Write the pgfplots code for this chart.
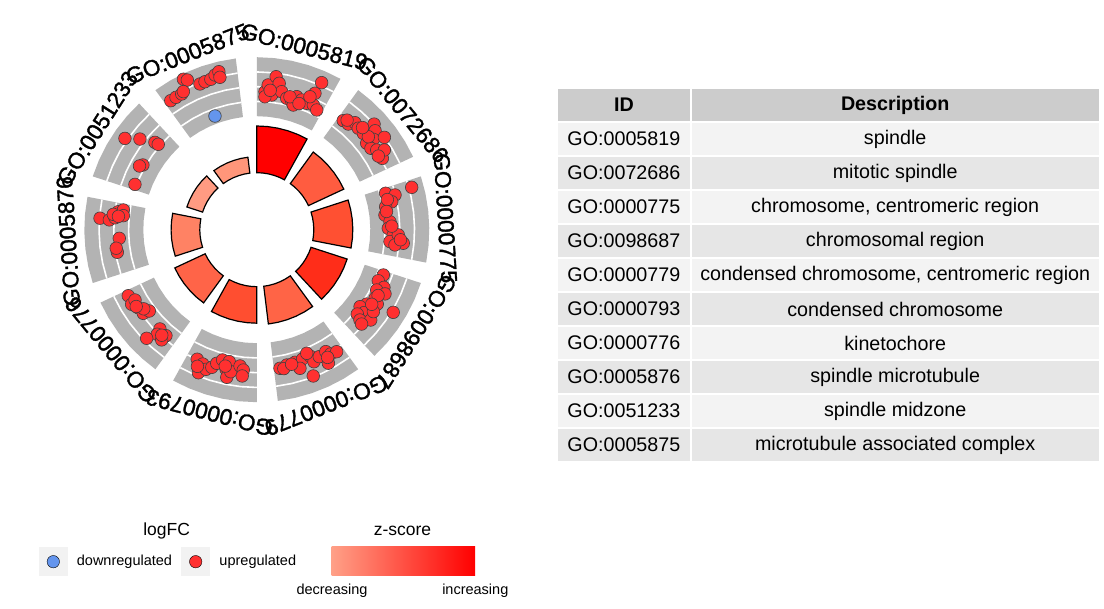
\documentclass[border=0pt]{standalone}
\usepackage{fontspec}
\setmainfont{Liberation Sans}
\newfontface\lblfont{Liberation Sans}[FakeBold=1.5]
\usepackage{pgfplots}
\pgfplotsset{compat=1.18}
\usepackage{pgfplotstable}
\usepgfplotslibrary{polar}

\definecolor{grey70}{RGB}{179,179,179}
\definecolor{fb1}{RGB}{255,48,48}
\definecolor{cfb}{RGB}{100,149,237}
\definecolor{zb1}{RGB}{255,0,0}
\definecolor{zb2}{RGB}{255,92,64}
\definecolor{zb3}{RGB}{255,80,50}
\definecolor{zb4}{RGB}{255,45,25}
\definecolor{zb5}{RGB}{255,100,70}
\definecolor{zb6}{RGB}{255,78,48}
\definecolor{zb7}{RGB}{255,100,72}
\definecolor{zb8}{RGB}{255,130,100}
\definecolor{zb9}{RGB}{255,155,130}
\definecolor{zb10}{RGB}{255,150,122}
\definecolor{hdr}{RGB}{204,204,204}
\definecolor{rowA}{RGB}{243,243,243}
\definecolor{rowB}{RGB}{230,230,230}
\definecolor{keybg}{RGB}{242,242,242}
\definecolor{gradL}{RGB}{255,160,135}
\definecolor{gradM}{RGB}{255,95,70}
\definecolor{gradR}{RGB}{255,0,0}

% upregulated genes: angle (deg), radius in the logFC ring
\pgfplotstableread{
a r
86.6 138.2
85.5 145.2
83.7 135.5
82.8 154.2
81.3 148.1
79.8 140.2
77.2 134.8
74.7 132.7
73.3 138.9
70.9 137.3
68.5 135.9
65.6 136.9
66.9 148.3
63.4 133.9
66.2 160.7
73.7 129.9
68.2 143.2
86.5 133.2
84.5 140.0
76.0 137.0
71.5 133.0
51.6 139.2
49.1 139.8
47.5 145.2
45.0 143.5
42.1 143.6
42.0 157.8
39.9 154.2
37.8 147.5
38.2 139.8
35.5 140.2
33.6 144.0
29.6 144.4
35.9 157.5
32.0 150.4
31.2 142.1
39.8 145.2
50.5 142.0
44.0 147.0
15.8 133.9
14.1 142.5
11.7 137.8
10.1 130.9
6.5 129.0
3.4 133.4
0.6 131.5
-2.2 136.6
-5.1 133.7
-2.1 141.6
-5.3 147.1
-6.3 139.0
15.3 160.6
13.0 134.0
8.0 131.0
-4.0 144.0
1.5 135.0
-19.7 134.4
-22.8 131.8
-24.4 139.6
-26.7 134.2
-26.6 143.4
-30.1 136.7
-31.7 141.6
-34.1 132.7
-36.7 128.8
-37.7 135.6
-40.0 131.2
-41.2 137.1
-38.4 145.4
-42.0 141.0
-31.2 159.5
-35.1 142.5
-28.5 138.0
-33.0 137.0
-80.5 140.5
-77.5 138.6
-73.9 138.0
-70.5 137.2
-67.2 137.0
-66.6 143.9
-63.8 141.5
-60.5 140.1
-59.3 144.6
-56.8 145.8
-61.8 151.5
-68.9 156.8
-72.7 145.2
-68.0 133.3
-79.0 141.5
-75.5 139.0
-61.0 146.0
-114.7 142.6
-111.9 144.8
-112.2 154.5
-110.0 148.6
-108.1 144.8
-106.7 139.5
-104.7 134.7
-101.8 134.8
-102.4 143.0
-101.5 150.6
-100.4 144.4
-97.0 137.3
-95.5 141.0
-95.7 147.0
-113.5 149.0
-103.0 140.0
-152.8 144.5
-149.2 145.7
-146.6 141.9
-143.6 141.0
-142.9 134.8
-134.3 138.7
-133.6 144.4
-130.6 139.6
-130.8 145.6
-135.4 154.7
-150.0 140.6
-145.0 138.0
-132.0 142.0
-147.5 143.0
175.8 157.2
176.2 147.8
175.2 142.3
172.6 139.7
171.6 134.9
174.0 134.2
173.9 144.3
183.6 137.8
189.2 141.3
187.5 141.8
174.5 139.0
145.3 160.4
142.2 147.9
139.4 134.2
139.1 130.4
150.4 131.0
151.5 133.5
159.6 130.0
116.0 167.4
114.9 165.0
111.3 156.4
109.3 156.8
107.0 157.3
105.1 160.2
103.5 162.5
103.6 156.8
123.7 155.1
121.4 155.1
118.95 155.1
118.0 156.4
}\uptab

% downregulated genes
\pgfplotstableread{
a r
110.2 121.1
}\downtab

% one term: six angles along the sector, bar radius, bar colour
\newcommand{\sector}[8]{%
\addplot[data cs=polar, draw=none, fill=grey70] coordinates {(#1,113.5) (#1,172.5) (#2,172.5) (#3,172.5) (#4,172.5) (#5,172.5) (#6,172.5) (#6,113.5) (#5,113.5) (#4,113.5) (#3,113.5) (#2,113.5)} -- cycle;
\addplot[data cs=polar, white, line width=1.6pt] coordinates {(#1,128.25) (#2,128.25) (#3,128.25) (#4,128.25) (#5,128.25) (#6,128.25)};
\addplot[data cs=polar, white, line width=1.6pt] coordinates {(#1,143) (#2,143) (#3,143) (#4,143) (#5,143) (#6,143)};
\addplot[data cs=polar, white, line width=1.6pt] coordinates {(#1,157.75) (#2,157.75) (#3,157.75) (#4,157.75) (#5,157.75) (#6,157.75)};
\addplot[data cs=polar, draw=black, line width=1.2pt, fill=#8] coordinates {(#1,57) (#1,#7) (#2,#7) (#3,#7) (#4,#7) (#5,#7) (#6,#7) (#6,57) (#5,57) (#4,57) (#3,57) (#2,57)} -- cycle;
}

\begin{document}
\begin{tikzpicture}
% legend key backgrounds (image-pixel frame)
\begin{scope}[x=1pt, y=-1pt, shift={(-256.8pt,229.7pt)}]
\fill[keybg] (39,547) rectangle (68,576);
\fill[keybg] (181,547) rectangle (210,576);
\end{scope}
\begin{axis}[
  x=1pt, y=1pt, scale only axis, hide axis, clip=false,
  xmin=-256.8, xmax=847.2, ymin=-379.3, ymax=229.7,
  anchor=south west, at={(-256.8pt,-379.3pt)},
]
\sector{90}{84.2}{78.4}{72.6}{66.8}{61}{103.7}{zb1}
\sector{54}{48.2}{42.4}{36.6}{30.8}{25}{96}{zb2}
\sector{18}{12.2}{6.4}{0.6}{-5.2}{-11}{96}{zb3}
\sector{-18}{-23.8}{-29.6}{-35.4}{-41.2}{-47}{95}{zb4}
\sector{-54}{-59.8}{-65.6}{-71.4}{-77.2}{-83}{95}{zb5}
\sector{-90}{-95.8}{-101.6}{-107.4}{-113.2}{-119}{93.5}{zb6}
\sector{-126}{-131.8}{-137.6}{-143.4}{-149.2}{-155}{90.5}{zb7}
\sector{-162}{-167.8}{-173.6}{-179.4}{-185.2}{-191}{85.7}{zb8}
\sector{-198}{-203.8}{-209.6}{-215.4}{-221.2}{-227}{73.5}{zb9}
\sector{-234}{-239.8}{-245.6}{-251.4}{-257.2}{-263}{73}{zb10}

\addplot[data cs=polar, only marks, mark=*, mark size=6.3pt,
  mark options={fill=fb1, draw=black!75, line width=0.6pt}] table[x=a, y=r] {\uptab};
\addplot[data cs=polar, only marks, mark=*, mark size=6.3pt,
  mark options={fill=cfb, draw=black!75, line width=0.6pt}] table[x=a, y=r] {\downtab};

% legend keys
\addplot[only marks, mark=*, mark size=6.2pt, mark options={fill=cfb, draw=none}] coordinates {(-203.5,-332)};
\addplot[only marks, mark=*, mark size=6.2pt, mark options={fill=fb1, draw=none}] coordinates {(-61.1,-332)};
\end{axis}

% term labels round the circle
\begin{scope}[every node/.style={font=\lblfont\fontsize{22.7}{27}\selectfont, inner sep=0pt}]
\node[rotate=-14.5]  at (47.3pt,183.0pt)   {GO:0005819};
\node[rotate=-50.5]  at (145.8pt,120.2pt)  {GO:0072686};
\node[rotate=-86.5]  at (188.6pt,11.5pt)   {GO:0000775};
\node[rotate=-122.5] at (159.4pt,-101.6pt) {GO:0098687};
\node[rotate=-158.5] at (69.3pt,-175.8pt)  {GO:0000779};
\node[rotate=-194.5] at (-47.3pt,-183.0pt) {GO:0000793};
\node[rotate=-230.5] at (-145.8pt,-120.2pt){GO:0000776};
\node[rotate=-266.5] at (-188.6pt,-11.5pt) {GO:0005876};
\node[rotate=57.5]   at (-159.4pt,101.6pt) {GO:0051233};
\node[rotate=21.5]   at (-69.3pt,175.8pt)  {GO:0005875};
\end{scope}

% image-pixel frame for table and legend
\begin{scope}[x=1pt, y=-1pt, shift={(-256.8pt,229.7pt)}]
\node[font=\fontsize{17.5}{20}\selectfont] at (166.7,530.7) {logFC};
\node[font=\fontsize{17.5}{20}\selectfont] at (402.5,530.7) {z-score};
\node[font=\fontsize{14.5}{17}\selectfont, anchor=west, inner sep=0pt] at (76.7,561.7) {downregulated};
\node[font=\fontsize{14.5}{17}\selectfont, anchor=west, inner sep=0pt] at (219.3,561.7) {upregulated};
\shade[left color=gradL, middle color=gradM, right color=gradR] (331.7,547) rectangle (475,576);
\node[font=\fontsize{14.5}{17}\selectfont] at (332,590.7) {decreasing};
\node[font=\fontsize{14.5}{17}\selectfont] at (475.3,590.7) {increasing};
% table
\fill[hdr] (557.7,89) rectangle (690,121);
\fill[hdr] (692,89) rectangle (1098.5,121);
\node[font=\fontsize{19.7}{23}\selectfont\bfseries] at (623.9,105) {ID};
\node[font=\fontsize{19.7}{23}\selectfont\bfseries] at (895.2,105) {Description};
\foreach \i/\id/\desc in {1/GO:0005819/spindle, 2/GO:0072686/mitotic spindle,
  3/GO:0000775/{chromosome, centromeric region}, 4/GO:0098687/chromosomal region,
  5/GO:0000779/{condensed chromosome, centromeric region}, 6/GO:0000793/condensed chromosome,
  7/GO:0000776/kinetochore, 8/GO:0005876/spindle microtubule,
  9/GO:0051233/spindle midzone, 10/GO:0005875/microtubule associated complex}{
  \ifodd\i \def\rc{rowA}\else \def\rc{rowB}\fi
  \fill[\rc] (557.7,{123+34*(\i-1)}) rectangle (690,{155+34*(\i-1)});
  \fill[\rc] (692,{123+34*(\i-1)}) rectangle (1098.5,{155+34*(\i-1)});
  \node[font=\fontsize{19.7}{23}\selectfont] at (623.9,{139+34*(\i-1)}) {\id};
  \node[font=\fontsize{19.7}{23}\selectfont] at (895.2,{139+34*(\i-1)}) {\desc};
}
\end{scope}
\pgfresetboundingbox
\useasboundingbox (-256.8pt,-379.3pt) rectangle (847.2pt,229.7pt);
\end{tikzpicture}
\end{document}
